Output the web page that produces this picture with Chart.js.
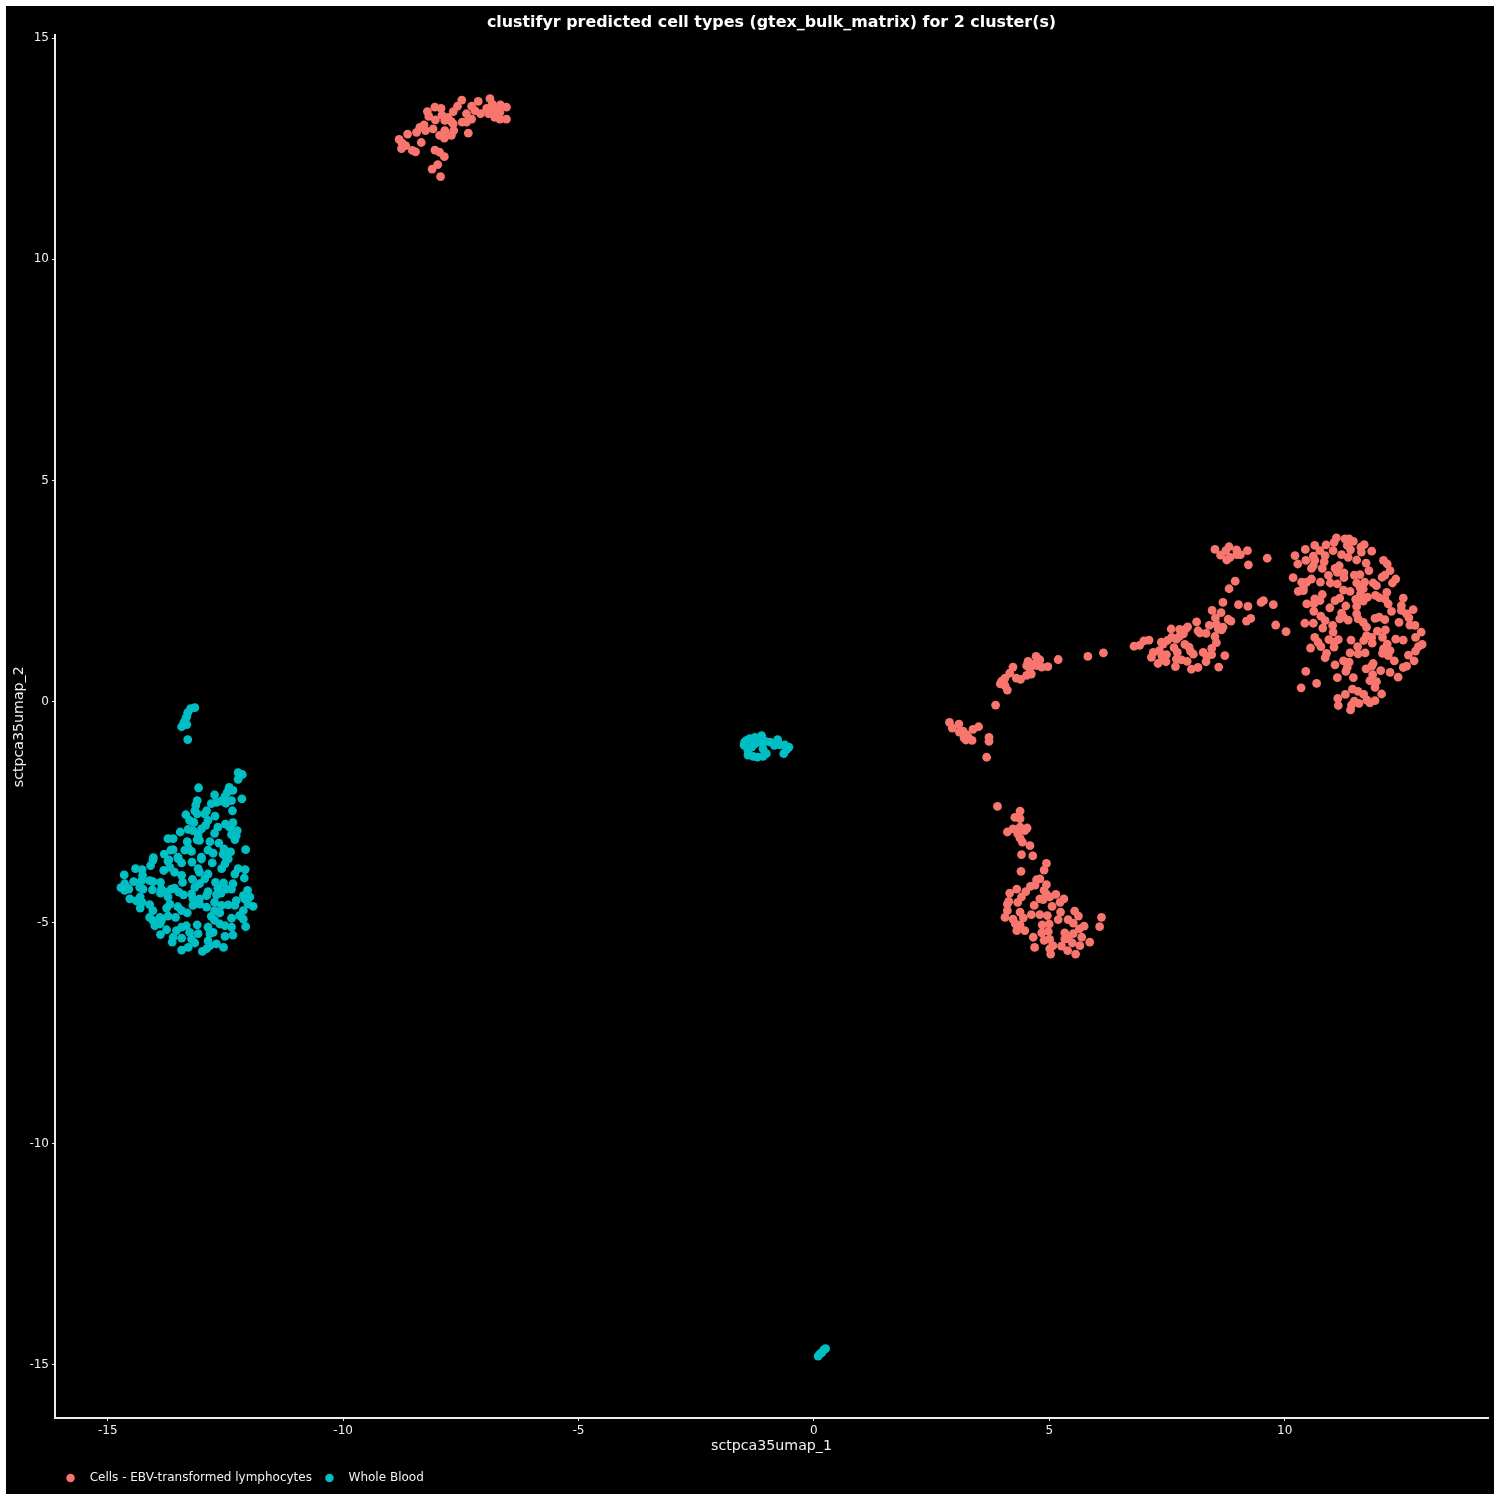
<!DOCTYPE html>
<html>
<head>
<meta charset="utf-8">
<title>clustifyr predicted cell types</title>
<script src="https://cdn.jsdelivr.net/npm/chart.js@4"></script>
<style>
body { margin: 0; background: #fff; }
#chart { position: absolute; left: 6px; top: 6px; background: #000; }
</style>
</head>
<body>
<canvas id="chart" width="1488" height="1488"></canvas>
<script>
const chartTitle = 'clustifyr predicted cell types (gtex_bulk_matrix) for 2 cluster(s)';
const xAxisTitle = 'sctpca35umap_1';
const yAxisTitle = 'sctpca35umap_2';
const seriesNames = ['Cells - EBV-transformed lymphocytes', 'Whole Blood'];
const seriesColours = ['#F8766D', '#00BFC4'];
const xTicks = [-15, -10, -5, 0, 5, 10];
const yTicks = [-15, -10, -5, 0, 5, 10, 15];

// lymphocytes, one list per island on the map
const lymphoRightBlob = [[9.63,3.24],[10.22,3.30],[10.28,3.11],[10.44,3.44],[10.45,3.19],[10.64,3.53],[10.75,3.41],[10.88,3.54],[11.03,3.41],[11.05,3.60],[11.10,3.70],[11.28,3.68],[11.37,3.68],[11.46,3.62],[11.33,3.53],[11.40,3.43],[11.21,3.32],[11.35,3.26],[11.53,3.20],[11.63,3.38],[11.62,3.49],[11.69,3.55],[11.85,3.40],[10.61,3.29],[10.64,3.19],[10.61,3.07],[10.57,3.01],[10.86,3.30],[10.84,3.16],[10.80,3.01],[10.18,2.80],[10.93,2.85],[11.07,3.01],[11.16,3.07],[11.12,2.92],[11.26,2.91],[11.26,2.80],[11.48,2.86],[11.60,2.87],[11.73,3.13],[11.79,2.96],[12.10,3.19],[12.18,3.11],[12.24,2.96],[12.13,2.86],[12.07,2.81],[12.36,2.77],[12.29,2.68],[10.57,2.77],[10.47,2.70],[10.36,2.70],[10.40,2.58],[10.29,2.49],[10.40,2.51],[10.76,2.70],[10.97,2.68],[11.12,2.66],[11.53,2.68],[11.70,2.70],[11.88,2.68],[11.95,2.62],[11.60,2.58],[11.67,2.55],[11.61,2.43],[11.25,2.52],[11.39,2.49],[11.93,2.40],[12.01,2.35],[12.17,2.47],[12.13,2.32],[12.20,2.21],[12.27,2.04],[12.52,2.34],[12.48,2.17],[12.48,2.06],[12.59,1.98],[12.73,2.08],[11.76,2.36],[11.67,2.27],[11.51,2.31],[11.53,2.15],[11.17,2.34],[11.07,2.28],[10.80,2.42],[10.64,2.32],[10.75,2.28],[10.47,2.21],[10.62,2.21],[10.62,2.04],[11.30,2.16],[10.96,2.12],[11.21,2.00],[11.17,1.87],[11.25,1.91],[11.35,1.84],[11.53,1.98],[11.56,1.87],[11.67,1.79],[11.74,1.68],[11.92,1.88],[12.01,1.91],[12.13,1.85],[12.43,1.79],[12.64,1.89],[12.66,1.73],[12.77,1.72],[12.90,1.57],[10.43,1.77],[10.61,1.77],[10.77,1.93],[10.86,1.83],[10.81,1.66],[11.02,1.72],[11.03,1.57],[11.97,1.59],[12.14,1.62],[11.74,1.49],[11.85,1.45],[10.64,1.45],[10.71,1.34],[10.77,1.24],[10.94,1.40],[11.05,1.34],[11.14,1.40],[11.41,1.39],[11.68,1.38],[11.86,1.32],[12.08,1.45],[12.36,1.41],[12.52,1.39],[12.78,1.45],[12.92,1.29],[12.84,1.24],[12.78,1.14],[10.55,1.21],[11.05,1.23],[11.55,1.24],[12.18,1.30],[12.10,1.19],[12.24,1.15],[12.08,1.09],[12.20,1.04],[12.33,0.92],[10.89,1.09],[10.86,0.99],[11.39,1.10],[11.56,1.08],[11.71,1.10],[12.63,1.05],[12.75,0.92],[11.25,0.92],[11.37,0.89],[11.07,0.83],[11.33,0.77],[11.30,0.68],[11.88,0.86],[11.85,0.80],[11.73,0.74],[12.59,0.80],[12.52,0.77],[12.04,0.70],[12.24,0.66],[12.41,0.55],[10.45,0.68],[11.12,0.54],[11.46,0.54],[11.87,0.61],[11.81,0.47],[11.95,0.45],[11.92,0.32],[10.68,0.41],[10.35,0.31],[11.44,0.28],[11.56,0.23],[11.29,0.16],[11.68,0.16],[12.06,0.17],[11.13,0.07],[11.75,0.03],[11.92,0.02],[11.81,-0.03],[11.48,0.01],[11.58,-0.04],[11.42,-0.08],[11.14,-0.09],[11.40,-0.19],[9.55,2.28],[9.50,2.24],[9.76,2.19],[9.81,1.73],[10.03,1.58]];
const lymphoBridge = [[8.52,3.44],[8.64,3.31],[8.75,3.41],[8.82,3.50],[8.77,3.20],[8.84,3.26],[8.98,3.43],[8.98,3.32],[9.06,3.32],[9.21,3.41],[9.23,3.09],[8.95,2.72],[8.82,2.55],[8.69,2.24],[9.02,2.19],[9.22,2.15],[8.46,2.06],[8.65,2.01],[8.53,1.89],[8.13,1.80],[8.80,1.86],[8.86,1.82],[9.19,1.82],[9.28,1.88],[8.40,1.72],[8.55,1.75],[8.59,1.64],[8.69,1.68],[8.66,1.62],[7.94,1.69],[7.90,1.64],[7.77,1.63],[7.59,1.64],[8.16,1.60],[8.20,1.55],[8.33,1.54],[7.85,1.53],[7.76,1.47],[7.70,1.41],[7.60,1.45],[7.51,1.38],[7.38,1.34],[7.42,1.30],[8.52,1.47],[8.55,1.33],[7.88,1.29],[7.97,1.23],[8.00,1.14],[8.06,1.07],[7.65,1.22],[7.72,1.11],[8.45,1.20],[8.27,1.11],[8.35,1.02],[8.45,1.06],[8.73,1.04],[8.33,0.90],[7.12,1.39],[7.01,1.37],[6.92,1.27],[6.80,1.25],[7.21,1.11],[7.34,1.15],[7.17,1.00],[7.39,1.04],[7.49,1.06],[7.41,0.94],[7.31,0.86],[7.48,0.90],[7.70,0.96],[7.81,0.94],[7.93,0.91],[7.68,0.79],[8.16,0.77],[8.02,0.73],[8.60,0.78]];
const lymphoArc = [[6.15,1.10],[5.82,1.02],[5.19,0.95],[4.97,0.79],[4.84,0.78],[4.77,0.96],[4.72,1.02],[4.80,0.94],[4.69,0.85],[4.74,0.81],[4.55,0.91],[4.52,0.81],[4.59,0.74],[4.62,0.62],[4.52,0.59],[4.39,0.50],[4.30,0.53],[4.23,0.78],[4.16,0.64],[4.06,0.53],[3.99,0.46],[3.96,0.40],[4.06,0.36],[4.11,0.26],[3.86,-0.08],[2.88,-0.47],[3.08,-0.51],[2.94,-0.60],[3.09,-0.69],[3.17,-0.67],[3.24,-0.75],[3.19,-0.82],[3.28,-0.81],[3.23,-0.87],[3.36,-0.88],[3.38,-0.63],[3.50,-0.57],[3.72,-0.81],[3.72,-0.90],[3.67,-1.26]];
const lymphoLowerBlob = [[3.90,-2.37],[4.38,-2.48],[4.27,-2.62],[4.38,-2.65],[4.11,-2.95],[4.23,-2.88],[4.38,-2.84],[4.53,-2.86],[4.48,-2.92],[4.33,-2.99],[4.38,-3.09],[4.43,-3.18],[4.59,-3.26],[4.41,-3.46],[4.65,-3.49],[4.94,-3.66],[4.89,-3.81],[4.40,-3.84],[4.80,-4.01],[4.73,-4.03],[4.94,-4.14],[4.70,-4.15],[4.60,-4.18],[4.50,-4.30],[4.31,-4.24],[4.16,-4.33],[4.89,-4.27],[4.94,-4.36],[4.41,-4.42],[4.33,-4.54],[4.14,-4.52],[4.11,-4.58],[4.87,-4.48],[4.80,-4.46],[5.01,-4.42],[5.14,-4.36],[5.31,-4.46],[5.23,-4.54],[5.06,-4.63],[4.68,-4.61],[4.11,-4.73],[4.06,-4.88],[4.23,-4.92],[4.38,-4.76],[4.45,-4.89],[4.28,-5.03],[4.31,-5.18],[4.38,-5.05],[4.48,-5.18],[4.62,-4.82],[4.80,-4.82],[4.96,-4.84],[5.24,-4.76],[5.19,-4.93],[5.54,-4.74],[5.62,-4.85],[5.40,-4.93],[5.51,-5.01],[5.74,-5.08],[5.64,-5.14],[5.69,-5.33],[6.11,-4.88],[6.07,-5.09],[5.00,-5.03],[4.85,-5.05],[4.98,-5.20],[4.84,-5.23],[4.66,-5.33],[5.33,-5.23],[5.51,-5.25],[5.33,-5.37],[5.40,-5.35],[4.89,-5.40],[5.01,-5.38],[5.08,-5.52],[5.26,-5.53],[5.49,-5.46],[5.65,-5.52],[5.86,-5.44],[5.39,-5.63],[4.69,-5.56],[5.01,-5.59],[5.03,-5.71],[5.56,-5.71]];
const lymphoTopArc = [[-8.81,12.71],[-8.75,12.63],[-8.63,12.83],[-8.76,12.50],[-8.67,12.57],[-8.53,12.46],[-8.46,12.43],[-8.34,12.64],[-8.44,12.87],[-8.37,12.98],[-8.28,13.04],[-8.25,12.91],[-8.09,12.95],[-8.21,13.34],[-8.18,13.23],[-8.05,13.44],[-7.92,13.41],[-8.04,13.15],[-7.90,13.26],[-7.77,13.21],[-7.66,13.34],[-7.57,13.46],[-7.48,13.60],[-7.70,13.11],[-7.66,13.06],[-7.84,13.14],[-7.95,12.80],[-7.84,12.91],[-7.85,12.74],[-7.70,12.80],[-7.65,12.91],[-7.34,12.85],[-7.38,13.29],[-7.47,13.10],[-7.38,13.10],[-7.27,13.17],[-7.27,13.46],[-7.13,13.57],[-7.20,13.36],[-7.08,13.29],[-6.95,13.41],[-6.88,13.63],[-6.83,13.51],[-6.91,13.29],[-6.78,13.38],[-6.66,13.49],[-6.53,13.44],[-6.67,13.32],[-6.78,13.21],[-6.67,13.17],[-6.53,13.17],[-8.05,12.47],[-7.95,12.42],[-7.85,12.32],[-7.99,12.14],[-8.11,12.04],[-7.93,11.87]];

// whole blood
const bloodSpur = [[-13.15,-0.14],[-13.24,-0.16],[-13.30,-0.25],[-13.32,-0.34],[-13.38,-0.47],[-13.34,-0.38],[-13.43,-0.57],[-13.32,-0.52],[-13.30,-0.86]];
const bloodBlobUpper = [[-12.23,-1.61],[-12.14,-1.65],[-12.23,-1.76],[-13.07,-1.95],[-12.42,-1.94],[-12.34,-2.01],[-12.46,-2.05],[-12.51,-2.15],[-12.73,-2.11],[-12.15,-2.20],[-12.37,-2.24],[-12.49,-2.30],[-12.59,-2.25],[-12.69,-2.28],[-12.80,-2.31],[-13.10,-2.24],[-13.13,-2.35],[-13.15,-2.47],[-12.90,-2.47],[-12.94,-2.54],[-12.35,-2.47],[-13.10,-2.54],[-13.34,-2.56],[-12.72,-2.59],[-13.26,-2.69],[-13.17,-2.73],[-12.87,-2.69],[-12.92,-2.80],[-12.34,-2.74],[-12.50,-2.77],[-12.41,-2.84],[-12.66,-2.84],[-12.73,-2.98],[-13.29,-2.89],[-13.46,-2.95],[-13.19,-2.92],[-13.01,-2.88],[-13.08,-3.01],[-12.25,-2.92],[-12.37,-3.01],[-12.27,-3.03],[-12.30,-3.12],[-13.72,-3.10],[-13.61,-3.10],[-13.31,-3.17],[-13.10,-3.13],[-13.05,-3.14],[-12.83,-3.17],[-12.64,-3.20],[-13.61,-3.35],[-13.66,-3.36],[-13.29,-3.31],[-13.36,-3.36],[-13.22,-3.39],[-12.87,-3.36],[-12.76,-3.43],[-12.53,-3.33],[-12.39,-3.40],[-12.55,-3.45],[-12.07,-3.35],[-13.80,-3.45],[-14.03,-3.53],[-13.51,-3.52],[-13.01,-3.52],[-13.70,-3.58],[-12.48,-3.54]];
const bloodBlobLower = [[-14.04,-3.59],[-14.09,-3.71],[-13.72,-3.61],[-13.50,-3.56],[-13.43,-3.65],[-13.21,-3.63],[-13.01,-3.56],[-12.78,-3.65],[-12.44,-3.56],[-12.51,-3.67],[-12.58,-3.78],[-13.68,-3.75],[-13.81,-3.82],[-13.58,-3.86],[-13.43,-3.93],[-14.41,-3.78],[-14.27,-3.80],[-14.65,-3.92],[-14.26,-3.93],[-14.28,-4.05],[-14.45,-4.07],[-14.11,-4.05],[-14.04,-4.07],[-13.08,-3.78],[-13.05,-3.86],[-12.87,-3.90],[-12.94,-4.01],[-12.23,-3.78],[-12.08,-3.80],[-12.30,-3.90],[-12.10,-3.99],[-13.20,-4.02],[-13.41,-4.09],[-13.88,-4.09],[-13.05,-4.12],[-13.15,-4.20],[-12.71,-4.09],[-12.54,-4.10],[-12.34,-4.12],[-12.66,-4.22],[-12.48,-4.24],[-12.37,-4.24],[-14.64,-4.12],[-14.72,-4.21],[-14.60,-4.20],[-14.64,-4.27],[-14.55,-4.24],[-14.32,-4.20],[-14.25,-4.24],[-14.05,-4.26],[-13.86,-4.24],[-13.88,-4.33],[-13.75,-4.31],[-13.65,-4.24],[-13.58,-4.22],[-13.49,-4.31],[-13.39,-4.37],[-13.72,-4.42],[-12.03,-4.27],[-12.87,-4.30],[-12.90,-4.39],[-13.22,-4.35],[-13.19,-4.46],[-13.05,-4.46],[-13.19,-4.61],[-13.05,-4.58],[-12.69,-4.37],[-12.59,-4.33],[-12.12,-4.39],[-11.98,-4.42],[-14.53,-4.46],[-14.31,-4.42],[-14.39,-4.51],[-14.27,-4.54],[-14.31,-4.67],[-14.11,-4.59],[-14.04,-4.73],[-13.68,-4.58],[-13.75,-4.67],[-13.51,-4.64],[-13.43,-4.73],[-13.31,-4.78],[-12.90,-4.65],[-12.73,-4.73],[-12.73,-4.54],[-12.58,-4.61],[-12.44,-4.60],[-12.62,-4.78],[-12.27,-4.50],[-12.30,-4.61],[-12.09,-4.46],[-12.02,-4.58],[-11.91,-4.63],[-12.12,-4.73],[-12.20,-4.84],[-12.12,-4.92],[-12.07,-5.09],[-12.37,-4.90],[-12.80,-4.86],[-12.73,-4.95],[-12.62,-5.03],[-14.11,-4.88],[-14.04,-4.95],[-13.89,-4.88],[-13.86,-4.95],[-13.72,-4.85],[-13.56,-4.88],[-14.00,-5.07],[-13.89,-5.03],[-13.75,-5.16],[-13.88,-5.27],[-13.10,-5.05],[-13.33,-5.07],[-13.43,-5.10],[-13.54,-5.18],[-13.61,-5.33],[-13.63,-5.44],[-13.43,-5.35],[-13.26,-5.22],[-13.22,-5.37],[-13.15,-5.46],[-13.08,-5.25],[-12.87,-5.10],[-12.83,-5.25],[-12.76,-5.22],[-12.51,-5.07],[-12.37,-5.10],[-12.34,-5.28],[-12.51,-5.31],[-12.87,-5.41],[-12.69,-5.48],[-12.54,-5.56],[-12.83,-5.52],[-12.90,-5.59],[-12.99,-5.65],[-13.29,-5.56],[-13.43,-5.62]];
const bloodCentre = [[-1.47,-0.92],[-1.43,-0.88],[-1.48,-0.99],[-1.36,-0.84],[-1.25,-0.81],[-1.11,-0.77],[-1.40,-1.11],[-1.40,-1.21],[-1.29,-1.24],[-1.20,-1.26],[-1.08,-1.24],[-1.01,-1.18],[-1.25,-0.96],[-1.15,-0.92],[-1.03,-0.90],[-0.93,-0.92],[-0.77,-0.86],[-0.84,-0.99],[-0.72,-0.98],[-0.62,-0.98],[-0.53,-1.03],[-0.64,-1.18],[-0.58,-1.09],[-1.08,-1.07],[-1.32,-1.03]];
const bloodBottom = [[0.09,-14.80],[0.13,-14.75],[0.17,-14.72],[0.21,-14.66],[0.25,-14.63]];

const lymphoPoints = [...lymphoRightBlob, ...lymphoBridge, ...lymphoArc, ...lymphoLowerBlob, ...lymphoTopArc];
const bloodPoints = [...bloodSpur, ...bloodBlobUpper, ...bloodBlobLower, ...bloodCentre, ...bloodBottom];

function toDataset(name, colour, points) {
    return {
        label: name,
        data: points.map(function (p) { return { x: p[0], y: p[1] }; }),
        backgroundColor: colour,
        borderWidth: 0,
        pointRadius: 4.4,
        pointHoverRadius: 4.4
    };
}

function axisOptions(titleText, tickValues, min, max, fitSize) {
    return {
        type: 'linear',
        min: min,
        max: max,
        afterBuildTicks: function (scale) {
            scale.ticks = tickValues.map(function (v) { return { value: v }; });
        },
        afterFit: function (scale) {
            if (scale.isHorizontal()) { scale.height = fitSize; } else { scale.width = fitSize; }
        },
        border: { display: true, color: '#ececec', width: 2 },
        grid: { drawOnChartArea: false, drawTicks: true, tickLength: 3, color: '#ececec', tickColor: '#ececec' },
        ticks: {
            color: '#f2f2f2',
            padding: 3,
            maxRotation: 0,
            autoSkip: false,
            font: { family: 'DejaVu Sans', size: 12 },
            callback: function (value) { return String(value); }
        },
        title: {
            display: true,
            text: titleText,
            color: '#f2f2f2',
            font: { family: 'DejaVu Sans', size: 14.2 },
            padding: { top: 5, bottom: 5 }
        }
    };
}

// the legend sits left aligned under the panel, not at the canvas edge
const legendShift = {
    id: 'legendShift',
    afterLayout: function (chart) {
        chart.legend.left += 47;
    }
};

new Chart(document.getElementById('chart'), {
    type: 'scatter',
    data: {
        datasets: [
            toDataset(seriesNames[0], seriesColours[0], lymphoPoints),
            toDataset(seriesNames[1], seriesColours[1], bloodPoints)
        ]
    },
    plugins: [legendShift],
    options: {
        responsive: false,
        animation: false,
        layout: { padding: { left: 0, right: 6, top: 0, bottom: 0 } },
        scales: {
            x: axisOptions(xAxisTitle, xTicks, -16.12, 14.32, 42),
            y: axisOptions(yAxisTitle, yTicks, -16.2, 15.06, 49)
        },
        plugins: {
            title: {
                display: true,
                text: chartTitle,
                color: '#ffffff',
                fullSize: false,
                font: { family: 'DejaVu Sans', size: 15.9, weight: 'bold' },
                padding: { top: 7.4, bottom: 3 }
            },
            legend: {
                position: 'bottom',
                align: 'start',
                labels: {
                    color: '#f2f2f2',
                    usePointStyle: true,
                    pointStyle: 'circle',
                    boxWidth: 11,
                    boxHeight: 6,
                    padding: 12,
                    font: { family: 'DejaVu Sans', size: 12 },
                    generateLabels: function (chart) {
                        const items = Chart.defaults.plugins.legend.labels.generateLabels(chart);
                        items.forEach(function (item) { item.text = '  ' + item.text; });
                        return items;
                    }
                }
            },
            tooltip: { enabled: false }
        }
    }
});
</script>
</body>
</html>
